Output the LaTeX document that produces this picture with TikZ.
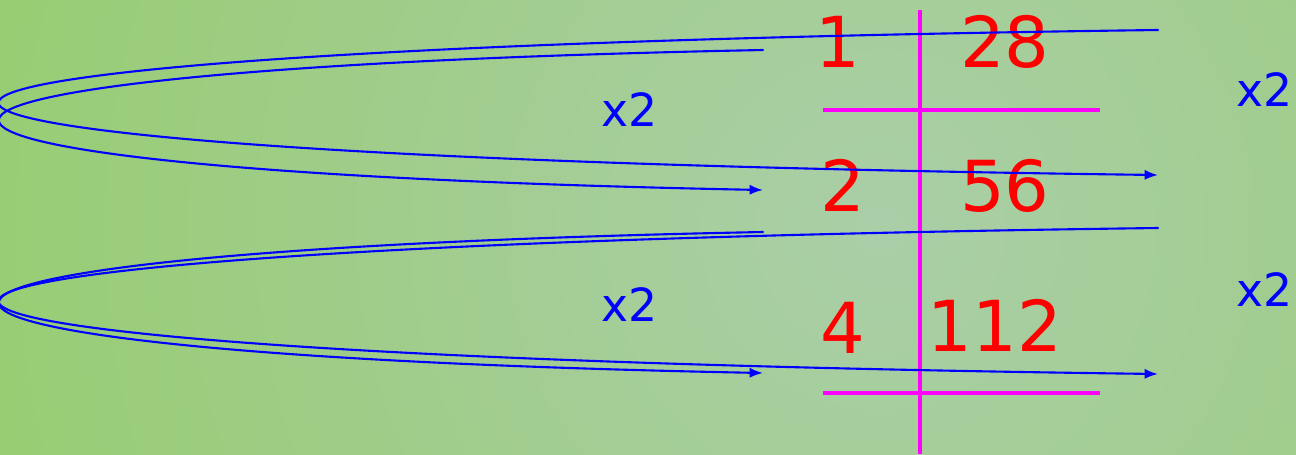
\documentclass[tikz,border=0pt]{standalone}
\usepackage{fontspec}
\setmainfont{DejaVu Sans}
\usetikzlibrary{arrows.meta}
\definecolor{bgmid}{RGB}{170,206,168}
\definecolor{bgedge}{RGB}{144,204,92}
\definecolor{rulepink}{RGB}{255,0,255}
\definecolor{numred}{RGB}{255,0,0}
\definecolor{loopblue}{RGB}{0,0,255}

\begin{document}
\begin{tikzpicture}[x=0.01cm,y=-0.01cm,line cap=round,
    num/.style={text=numred,font=\fontsize{20}{20}\selectfont},
    factor/.style={text=loopblue,font=\fontsize{13}{13}\selectfont},
    rule/.style={rulepink,line width=1.4pt,line cap=butt},
    loopline/.style={loopblue,line width=0.6pt},
    looparrow/.style={loopline,-{Latex[length=3.8pt,width=2.9pt]}}]
  \useasboundingbox (0,0) rectangle (1296,454);

  % --- background ---
  \begin{scope}
    \clip (0,0) rectangle (1296,454);
    \shade[inner color=bgmid,outer color=bgedge] (880,230) circle (1300);
  \end{scope}

  % --- table rules ---
  \draw[rule] (920,10) -- (920,454);
  \draw[rule] (823,110) -- (1100,110);
  \draw[rule] (823,393) -- (1100,393);

  % --- left column ---
  \node[num] (l1) at (838,42) {1};
  \node[num] (l2) at (843,185) {2};
  \node[num] (l4) at (843,328) {4};

  % --- right column ---
  \node[num] (r28) at (1005,42) {28};
  \node[num] (r56) at (1005,186) {56};
  \node[num] (r112) at (995,325) {112};

  % --- factors ---
  \node[factor] (fl1) at (630,110) {x2};
  \node[factor] (fl2) at (630,305) {x2};
  \node[factor] (fr1) at (1265,90) {x2};
  \node[factor] (fr2) at (1265,290) {x2};

  % --- loop ends ---
  \coordinate (ia1) at (763,50);
  \coordinate (ia2) at (763,190);
  \coordinate (oa1) at (1158,30);
  \coordinate (oa2) at (1158,175);
  \coordinate (ib1) at (763,232);
  \coordinate (ib2) at (763,373);
  \coordinate (ob1) at (1158,228);
  \coordinate (ob2) at (1158,374);

  % upper pair
  \draw[looparrow] (ia1) .. controls (-254,70) and (-254,170) .. (ia2);
  \draw[looparrow] (oa1) .. controls (-386,50) and (-386,155) .. (oa2);

  % lower pair
  \draw[looparrow] (ib1) .. controls (-254,252) and (-254,353) .. (ib2);
  \draw[looparrow] (ob1) .. controls (-386,248) and (-386,354) .. (ob2);
\end{tikzpicture}
\end{document}
